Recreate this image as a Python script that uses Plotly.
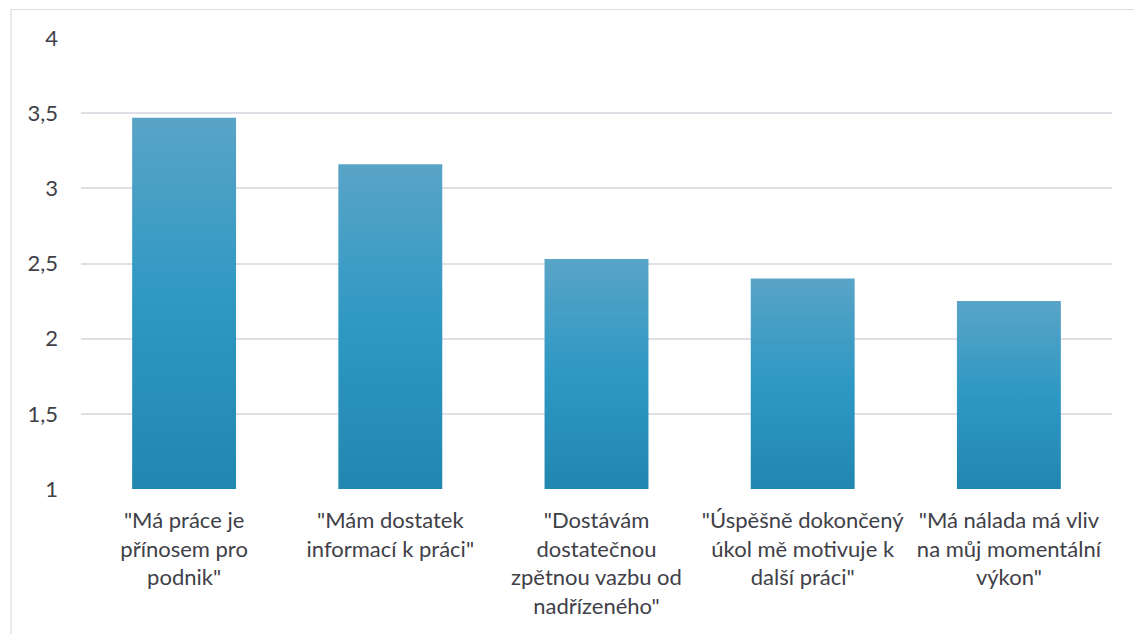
import plotly.graph_objects as go

# Survey statements (Czech) and their mean scores
categories = [
    '"Má práce je<br>přínosem pro<br>podnik"',
    '"Mám dostatek<br>informací k práci"',
    '"Dostávám<br>dostatečnou<br>zpětnou vazbu od<br>nadřízeného"',
    '"Úspěšně dokončený<br>úkol mě motivuje k<br>další práci"',
    '"Má nálada má vliv<br>na můj momentální<br>výkon"',
]
values = [3.47, 3.16, 2.53, 2.40, 2.25]

y_min, y_max = 1, 4
y_ticks = [1, 1.5, 2, 2.5, 3, 3.5, 4]
y_tick_text = ["1", "1,5", "2", "2,5", "3", "3,5", "4"]

bar_half_width = 0.252
grad_scale = [[0.0, "#2187B0"], [0.5, "#2E98C3"], [1.0, "#59A4C7"]]

W, H = 1134, 634
M_L, M_R, M_T, M_B = 80.5, 21.5, 38, 145

fig = go.Figure()

# Each bar is a filled polygon so it can carry a vertical gradient
for i, v in enumerate(values):
    xs = [i - bar_half_width, i + bar_half_width, i + bar_half_width, i - bar_half_width, i - bar_half_width]
    ys = [y_min, y_min, v, v, y_min]
    fig.add_trace(go.Scatter(
        x=xs, y=ys, mode="lines", fill="toself",
        line=dict(width=0, color="rgba(0,0,0,0)"),
        fillgradient=dict(type="vertical", colorscale=grad_scale),
        hoverinfo="skip", showlegend=False,
    ))

font_family = "Lato, 'Noto Sans', sans-serif"
text_color = "#404048"

fig.update_layout(
    width=W, height=H,
    margin=dict(l=M_L, r=M_R, t=M_T, b=M_B, pad=0),
    paper_bgcolor="white", plot_bgcolor="white",
    font=dict(family=font_family, size=22, color=text_color),
    xaxis=dict(
        range=[-0.5, len(values) - 0.5],
        tickmode="array", tickvals=list(range(len(categories))), ticktext=categories,
        showgrid=False, zeroline=False, showline=False, ticks="",
        ticklabelstandoff=16,
        tickfont=dict(size=22, color=text_color),
    ),
    yaxis=dict(
        range=[y_min, y_max],
        tickmode="array", tickvals=y_ticks, ticktext=y_tick_text,
        showgrid=True, gridcolor="#E0DFE6", gridwidth=1.5,
        zeroline=False, showline=False, ticks="", ticklabelstandoff=22,
        tickfont=dict(size=22, color=text_color),
    ),
    showlegend=False,
)

# Light chart frame
plot_w = W - M_L - M_R
plot_h = H - M_T - M_B
fig.add_shape(
    type="rect", xref="paper", yref="paper",
    x0=(10.5 - M_L) / plot_w, x1=(W + 5 - M_L) / plot_w,
    y0=-(H + 5 - M_T - plot_h) / plot_h, y1=1 + (M_T - 9.5) / plot_h,
    line=dict(color="#DCDCE2", width=1.2), fillcolor="rgba(0,0,0,0)", layer="below",
)

fig.write_html("out.html")
